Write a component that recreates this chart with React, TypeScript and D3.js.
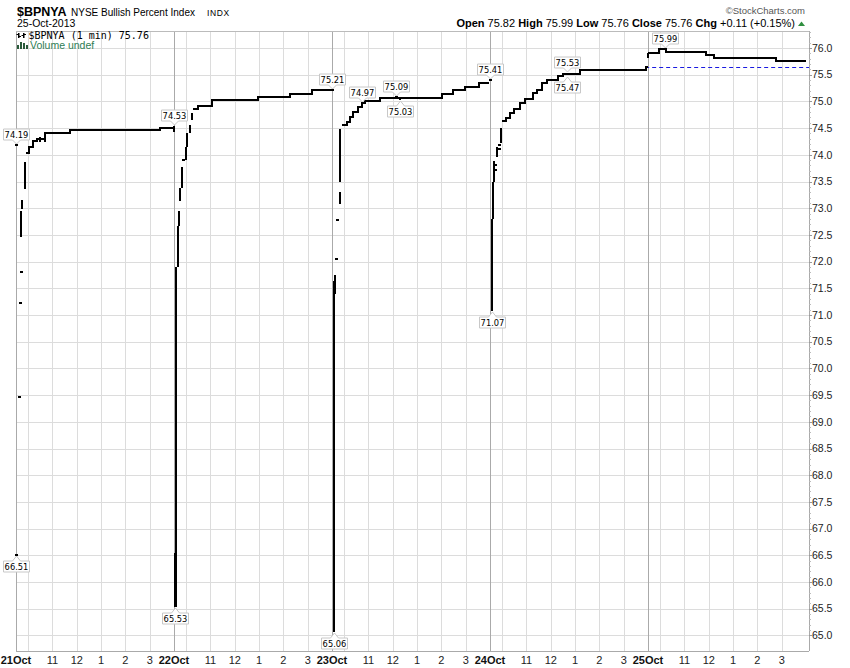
import React from "react";
import * as d3 from "d3";

// ---------- DATA ----------
const dayLabels = ["21Oct", "22Oct", "23Oct", "24Oct", "25Oct"];
const hourLabels = ["11", "12", "1", "2", "3"];
const hourLabelMinutes = [90, 150, 210, 270, 330]; // minutes after 9:30 open
const hourGridMinutes = [30, 90, 150, 210, 270, 330];
const sessionMinutes = 390;
const yTickValues = [65, 65.5, 66, 66.5, 67, 67.5, 68, 68.5, 69, 69.5, 70, 70.5, 71, 71.5, 72, 72.5, 73, 73.5, 74, 74.5, 75, 75.5, 76];

// opening range bars per day: [minute, low, high]
const barsDay1 = [[0, 66.51, 66.51], [0, 74.19, 74.19], [7, 69.46, 69.46], [10, 71.23, 71.23], [11.5, 71.8, 71.8], [12, 72.47, 72.95], [15.5, 72.99, 73.16], [21.5, 73.36, 73.86], [59, 74.24, 74.34], [72, 74.24, 74.34]];
const barsDay2 = [[0, 74.43, 74.53], [2, 65.53, 66.55], [6, 65.53, 71.9], [11, 71.9, 72.67], [13, 72.67, 72.95], [15.5, 73.14, 73.37], [20, 73.37, 73.77], [22, 73.91, 73.91], [29, 73.91, 74.14], [33, 74.14, 74.4], [39, 74.4, 74.55], [45, 74.66, 74.78]];
const barsDay3 = [[0, 75.21, 75.21], [5, 65.06, 71.64], [7, 71.4, 71.75], [10, 72.05, 72.05], [11.5, 72.78, 72.78], [19, 73.08, 73.3], [20.5, 73.49, 74.49], [158, 75.09, 75.09], [168, 75.03, 75.07]];
const barsDay4 = [[0, 75.41, 75.41], [6, 71.07, 72.8], [7.5, 72.8, 73.49], [9, 73.49, 73.89], [12, 73.71, 73.71], [12.5, 73.8, 73.8], [18.5, 73.95, 74.14], [21, 74.1, 74.1], [22, 74.18, 74.18], [28, 74.23, 74.51]];
const barsDay5 = [[0, 75.81, 75.91]];

// step line per day: [minute, value]
const stepsDay1 = [[24.7, 74.03], [32.8, 74.14], [42, 74.25], [52, 74.3], [72, 74.4], [133, 74.46], [356, 74.5], [387, 74.5]];
const stepsDay2 = [[47, 74.85], [59, 74.91], [93, 75.02], [207, 75.08], [286, 75.13], [341, 75.21], [390, 75.21]];
const stepsDay3 = [[24, 74.55], [36, 74.61], [44, 74.71], [52, 74.8], [64, 74.9], [74, 74.97], [81, 75.01], [119, 75.07], [188, 75.07], [272, 75.13], [299, 75.21], [329, 75.27], [363, 75.34], [388, 75.34]];
const stepsDay4 = [[30, 74.63], [40, 74.68], [49, 74.78], [59, 74.85], [74, 74.97], [86, 75.05], [106, 75.16], [116, 75.22], [128, 75.34], [141, 75.41], [168, 75.47], [180, 75.52], [222, 75.58], [384, 75.65], [389, 75.65]];
const stepsDay5 = [[0, 75.91], [27, 75.99], [44, 75.92], [143, 75.87], [163, 75.81], [316, 75.76], [390, 75.76]];

const barsByDay = [barsDay1, barsDay2, barsDay3, barsDay4, barsDay5];
const stepsByDay = [stepsDay1, stepsDay2, stepsDay3, stepsDay4, stepsDay5];

// annotations: [day, minute, value, side]
const callouts: [number, number, number, string][] = [
  [0, 0, 74.19, "hi"], [0, 0, 66.51, "lo"],
  [1, 0, 74.53, "hi"], [1, 3, 65.53, "lo"],
  [2, 0, 75.21, "hi"], [2, 4, 65.06, "lo"],
  [2, 74, 74.97, "hi"], [2, 158, 75.09, "hi"], [2, 168, 75.03, "lo"],
  [3, 0, 75.41, "hi"], [3, 5, 71.07, "lo"],
  [3, 190, 75.53, "hi"], [3, 190, 75.47, "lo"],
  [4, 42, 75.99, "hi"],
];

const prevClose = 75.65;
const prevCloseStart = [3, 383];

const symbol = "$BPNYA";
const title = "NYSE Bullish Percent Index";
const dateText = "25-Oct-2013";
const legendText = "$BPNYA (1 min) 75.76";
const quote = [["Open", "75.82"], ["High", "75.99"], ["Low", "75.76"], ["Close", "75.76"], ["Chg", "+0.11 (+0.15%)"]];

// ---------- LAYOUT ----------
const W = 850, H = 668;
const L = 16, R = 809, T = 31, B = 651;
const SANS = "'Liberation Sans', Arial, sans-serif";

export default function App() {
  const x = d3.scaleLinear().domain([0, 5 * sessionMinutes]).range([16, 806]);
  const y = d3.scaleLinear().domain([65, 76]).range([635.4, 48]);
  const tx = (d: number, m: number) => x(d * sessionMinutes + m);

  const minorTicks = d3.range(650, 764, 1).map((v) => v / 10).filter((v) => y(v) > T && y(v) < B);

  return (
    <svg width={W} height={H} style={{ position: "absolute", left: 0, top: 0, background: "#fff" }} fontFamily={SANS}>
      <rect x={0} y={0} width={W} height={H} fill="#fff" />
      {/* horizontal grid */}
      {yTickValues.map((v) => (
        <line key={"hg" + v} x1={L} x2={R} y1={Math.round(y(v)) + 0.5} y2={Math.round(y(v)) + 0.5} stroke="#dcdcdc" />
      ))}
      {/* vertical grid */}
      {dayLabels.map((_, d) =>
        hourGridMinutes.map((m) => (
          <line key={"vg" + d + "_" + m} x1={Math.round(tx(d, m)) + 0.5} x2={Math.round(tx(d, m)) + 0.5} y1={T} y2={B} stroke="#dcdcdc" />
        ))
      )}
      {dayLabels.map((_, d) => (
        <line key={"dl" + d} x1={Math.round(tx(d, 0)) + 0.5} x2={Math.round(tx(d, 0)) + 0.5} y1={T} y2={B} stroke="#aaa" />
      ))}
      {/* frame */}
      <line x1={L} x2={R} y1={T + 0.5} y2={T + 0.5} stroke="#bbb" />
      <line x1={L} x2={R} y1={B + 0.5} y2={B + 0.5} stroke="#aaa" />
      <line x1={R + 0.5} x2={R + 0.5} y1={T} y2={B} stroke="#aaa" />

      {/* y axis ticks/labels */}
      {minorTicks.map((v) => (
        <line key={"mt" + v} x1={R} x2={R + 2} y1={Math.round(y(v)) + 0.5} y2={Math.round(y(v)) + 0.5} stroke="#bbb" />
      ))}
      {yTickValues.map((v) => (
        <g key={"yt" + v}>
          <line x1={R} x2={R + 3} y1={Math.round(y(v)) + 0.5} y2={Math.round(y(v)) + 0.5} stroke="#999" />
          <text x={R + 3} y={y(v)} dy="0.36em" fontSize={10.5} fill="#222">{v.toFixed(1)}</text>
        </g>
      ))}

      {/* x axis labels */}
      {dayLabels.map((lab, d) => (
        <g key={"xl" + d}>
          <text x={tx(d, 0)} y={664} textAnchor="middle" fontSize={11} fontWeight="bold" fill="#111">{lab}</text>
          {hourLabels.map((h, i) => (
            <text key={h} x={tx(d, hourLabelMinutes[i])} y={664} textAnchor="middle" fontSize={11} fill="#222">{h}</text>
          ))}
        </g>
      ))}

      {/* previous close */}
      <line x1={tx(prevCloseStart[0], prevCloseStart[1])} x2={R} y1={Math.round(y(prevClose)) + 0.5} y2={Math.round(y(prevClose)) + 0.5} stroke="#1a1ae0" strokeDasharray="4,3" />

      {/* step lines */}
      {stepsByDay.map((pts, d) => {
        const line = d3.line<number[]>().x((p) => tx(d, p[0])).y((p) => y(p[1])).curve(d3.curveStepAfter);
        return <path key={"st" + d} d={line(pts) || ""} fill="none" stroke="#000" strokeWidth={2} shapeRendering="crispEdges" />;
      })}
      {/* bars */}
      {barsByDay.map((bars, d) =>
        bars.map((b, i) => {
          const bx = Math.round(tx(d, b[0]));
          const yh = y(b[2]);
          const yl = y(b[1]);
          if (yl - yh < 2) {
            return <rect key={"b" + d + "_" + i} x={bx - 1} y={Math.round(yh) - 1} width={3} height={2} fill="#000" />;
          }
          return <rect key={"b" + d + "_" + i} x={bx - 1} y={Math.round(yh)} width={2} height={Math.round(yl) - Math.round(yh)} fill="#000" />;
        })
      )}

      {/* callouts */}
      {callouts.map(([d, m, v, side], i) => {
        const px = Math.round(tx(d, m)) + 0.5;
        const py = Math.round(y(v));
        const bw = 26, bh = 11;
        const left = px - bw / 2, right = px + bw / 2;
        let path: string, ty: number;
        if (side === "hi") {
          const bottom = py - 5, top = bottom - bh;
          path = `M${left},${top}H${right}V${bottom}H${px + 4}L${px},${py - 1}L${px - 4},${bottom}H${left}Z`;
          ty = top + 9;
        } else {
          const top = py + 6, bottom = top + bh;
          path = `M${left},${top}H${px - 4}L${px},${py + 1}L${px + 4},${top}H${right}V${bottom}H${left}Z`;
          ty = top + 9;
        }
        return (
          <g key={"c" + i}>
            <path d={path} fill="#fff" stroke="#c8c8c8" />
            <text x={px} y={ty} textAnchor="middle" fontSize={8.3} fontFamily="'DejaVu Sans', Verdana, sans-serif" fill="#000">{v.toFixed(2)}</text>
          </g>
        );
      })}

      {/* legend */}
      <g>
        <rect x={18} y={33} width={1.5} height={5} fill="#000" />
        <rect x={16.5} y={34} width={2} height={1} fill="#000" />
        <rect x={19} y={36} width={2} height={1} fill="#000" />
        <rect x={23} y={33} width={1.5} height={5} fill="#000" />
        <rect x={21.5} y={35} width={2} height={1} fill="#000" />
        <rect x={24} y={34} width={2} height={1} fill="#000" />
        <text x={28.5} y={38.5} fontSize={10} fontFamily="'DejaVu Sans Mono', monospace" fill="#000">{legendText}</text>
        <rect x={17} y={45} width={2} height={4} fill="#2a5a3a" />
        <rect x={20} y={42} width={2} height={7} fill="#2a5a3a" />
        <rect x={23} y={43} width={2} height={6} fill="#2a5a3a" />
        <rect x={26} y={45} width={2} height={4} fill="#2a5a3a" />
        <text x={30} y={49} fontSize={10.5} fill="#2e7d55">Volume undef</text>
      </g>

      {/* header */}
      <text x={17} y={15.5} fontSize={12.5} fontWeight="bold" fill="#000">{symbol}</text>
      <text x={71} y={15.5} fontSize={10} fill="#000">{title}</text>
      <text x={207} y={15.5} fontSize={8.5} letterSpacing={0.6} fill="#000">INDX</text>
      <text x={17} y={27} fontSize={10.5} fill="#000">{dateText}</text>
      <text x={805} y={13.5} textAnchor="end" fontSize={9.5} fill="#555">©StockCharts.com</text>
      <text x={795} y={26.5} textAnchor="end" fontSize={11} fill="#000">
        {quote.map(([k, v], i) => (
          <React.Fragment key={k}>
            <tspan fontWeight="bold">{(i > 0 ? "  " : "") + k}</tspan>
            <tspan>{" " + v}</tspan>
          </React.Fragment>
        ))}
      </text>
      <polygon points="798,26 805,26 801.5,21.5" fill="#2f8f3f" />
    </svg>
  );
}
